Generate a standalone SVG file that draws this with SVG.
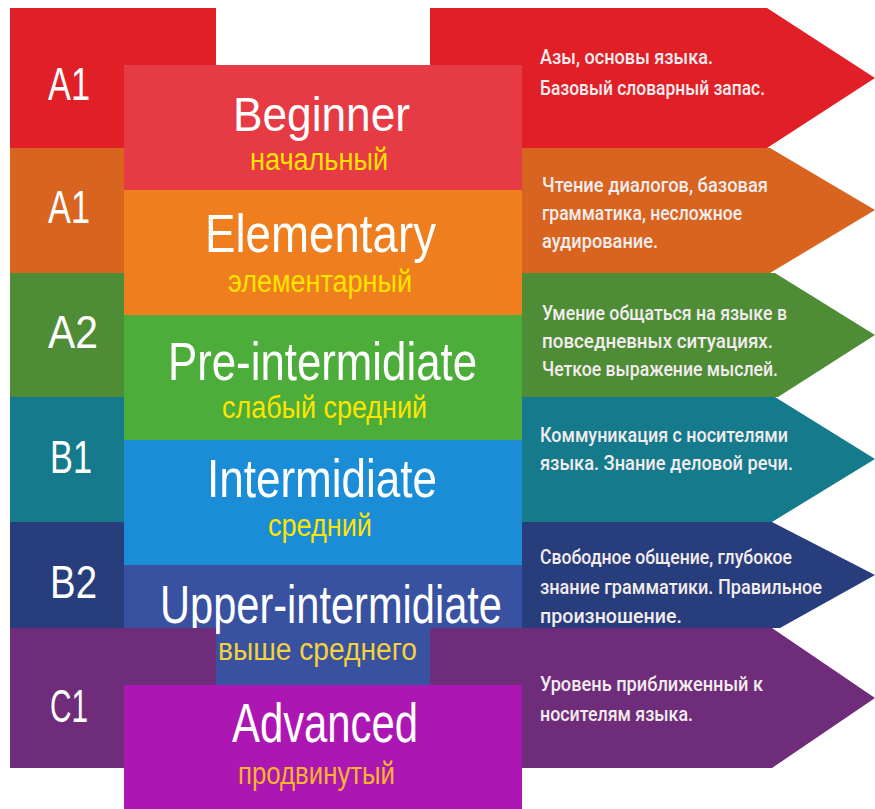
<svg xmlns="http://www.w3.org/2000/svg" width="875" height="809" viewBox="0 0 875 809">
<style>
.lbl{font-family:"Liberation Sans",Arial,sans-serif;font-size:46px;fill:#ffffff}
.ttl{font-family:"Liberation Sans",Arial,sans-serif;font-size:53px;fill:#ffffff}
.sub{font-family:"Liberation Sans",Arial,sans-serif;font-size:31px;fill:#ffe400}
.desc{font-family:Roboto,"Liberation Sans",Arial,sans-serif;font-size:21px;font-weight:500;fill:#f3ecee}
.desc2{font-family:Roboto,"Liberation Sans",Arial,sans-serif;font-size:20px;font-weight:500;fill:#f3ecee}
</style>
<rect width="875" height="809" fill="#ffffff"/>
<g id="band-a1-red">
<rect x="10" y="8" width="206" height="140" fill="#e11f26"/>
<polygon points="430,8 767,8 875,78 767,148 430,148" fill="#e11f26"/>
<text class="lbl" x="48" y="100" textLength="42" lengthAdjust="spacingAndGlyphs">A1</text>
<text class="desc" x="540" y="64" textLength="173" lengthAdjust="spacingAndGlyphs">Азы, основы языка.</text>
<text class="desc" x="540" y="95" textLength="225" lengthAdjust="spacingAndGlyphs">Базовый словарный запас.</text>
</g>
<g id="band-a1-orange">
<rect x="10" y="148" width="206" height="125" fill="#d8641f"/>
<polygon points="430,148 770,148 875,210 770,273 430,273" fill="#d8641f"/>
<text class="lbl" x="48" y="223" textLength="42" lengthAdjust="spacingAndGlyphs">A1</text>
<text class="desc" x="542" y="192" textLength="226" lengthAdjust="spacingAndGlyphs">Чтение диалогов, базовая</text>
<text class="desc" x="542" y="220" textLength="200" lengthAdjust="spacingAndGlyphs">грамматика, несложное</text>
<text class="desc" x="542" y="248" textLength="116" lengthAdjust="spacingAndGlyphs">аудирование.</text>
</g>
<g id="band-a2">
<rect x="10" y="273" width="206" height="124" fill="#4e8d36"/>
<polygon points="430,273 775,273 875,335 778,397 430,397" fill="#4e8d36"/>
<text class="lbl" x="48" y="348" textLength="50" lengthAdjust="spacingAndGlyphs">A2</text>
<text class="desc" x="542" y="320" textLength="245" lengthAdjust="spacingAndGlyphs">Умение общаться на языке в</text>
<text class="desc" x="542" y="348" textLength="231" lengthAdjust="spacingAndGlyphs">повседневных ситуациях.</text>
<text class="desc" x="542" y="376" textLength="236" lengthAdjust="spacingAndGlyphs">Четкое выражение мыслей.</text>
</g>
<g id="band-b1">
<rect x="10" y="397" width="206" height="125" fill="#147a8c"/>
<polygon points="430,397 775,397 875,459 772,522 430,522" fill="#147a8c"/>
<text class="lbl" x="50" y="473" textLength="42" lengthAdjust="spacingAndGlyphs">B1</text>
<text class="desc" x="540" y="442" textLength="248" lengthAdjust="spacingAndGlyphs">Коммуникация с носителями</text>
<text class="desc" x="540" y="470" textLength="253" lengthAdjust="spacingAndGlyphs">языка. Знание деловой речи.</text>
</g>
<g id="band-b2">
<rect x="10" y="522" width="206" height="106" fill="#283d7b"/>
<polygon points="430,522 772,522 875,575 780,628 430,628" fill="#283d7b"/>
<text class="lbl" x="50" y="598" textLength="47" lengthAdjust="spacingAndGlyphs">B2</text>
<text class="desc2" x="540" y="564" textLength="252" lengthAdjust="spacingAndGlyphs">Свободное общение, глубокое</text>
<text class="desc2" x="540" y="594" textLength="282" lengthAdjust="spacingAndGlyphs">знание грамматики. Правильное</text>
<text class="desc2" x="540" y="623" textLength="142" lengthAdjust="spacingAndGlyphs">произношение.</text>
</g>
<g id="block-beginner">
<rect x="124" y="65" width="398" height="125" fill="#e63a45"/>
<text class="ttl" x="233" y="131" textLength="177" lengthAdjust="spacingAndGlyphs" style="font-size:48px">Beginner</text>
<text class="sub" x="250" y="170" textLength="138" lengthAdjust="spacingAndGlyphs">начальный</text>
</g>
<g id="block-elementary">
<rect x="124" y="190" width="398" height="125" fill="#ef7f1e"/>
<text class="ttl" x="205" y="252" textLength="231" lengthAdjust="spacingAndGlyphs">Elementary</text>
<text class="sub" x="228" y="292" textLength="184" lengthAdjust="spacingAndGlyphs">элементарный</text>
</g>
<g id="block-pre-intermediate">
<rect x="124" y="315" width="398" height="125" fill="#4dad3b"/>
<text class="ttl" x="168" y="380" textLength="309" lengthAdjust="spacingAndGlyphs">Pre-intermidiate</text>
<text class="sub" x="222" y="418" textLength="205" lengthAdjust="spacingAndGlyphs">слабый средний</text>
</g>
<g id="block-intermediate">
<rect x="124" y="440" width="398" height="125" fill="#1b8dd6"/>
<text class="ttl" x="207" y="497" textLength="230" lengthAdjust="spacingAndGlyphs">Intermidiate</text>
<text class="sub" x="268" y="536" textLength="104" lengthAdjust="spacingAndGlyphs">средний</text>
</g>
<g id="block-upper-intermediate">
<rect x="124" y="565" width="398" height="120" fill="#3851a0"/>
<text class="ttl" x="160" y="623" textLength="342" lengthAdjust="spacingAndGlyphs">Upper-intermidiate</text>
<text class="sub" x="218" y="660" textLength="199" lengthAdjust="spacingAndGlyphs" style="fill:#f4d23c">выше среднего</text>
</g>
<g id="band-c1">
<rect x="10" y="628" width="206" height="140" fill="#6e2c7a"/>
<polygon points="430,628 772,628 875,698 772,768 430,768" fill="#6e2c7a"/>
<text class="lbl" x="50" y="722" textLength="38" lengthAdjust="spacingAndGlyphs">C1</text>
<text class="desc" x="540" y="691" textLength="223" lengthAdjust="spacingAndGlyphs">Уровень приближенный к</text>
<text class="desc" x="540" y="721" textLength="153" lengthAdjust="spacingAndGlyphs">носителям языка.</text>
</g>
<g id="block-advanced">
<rect x="124" y="685" width="398" height="124" fill="#ac16b2"/>
<text class="ttl" x="232" y="742" textLength="186" lengthAdjust="spacingAndGlyphs" style="font-size:55px">Advanced</text>
<text class="sub" x="238" y="784" textLength="157" lengthAdjust="spacingAndGlyphs" style="fill:#f7b52c">продвинутый</text>
</g>
</svg>
